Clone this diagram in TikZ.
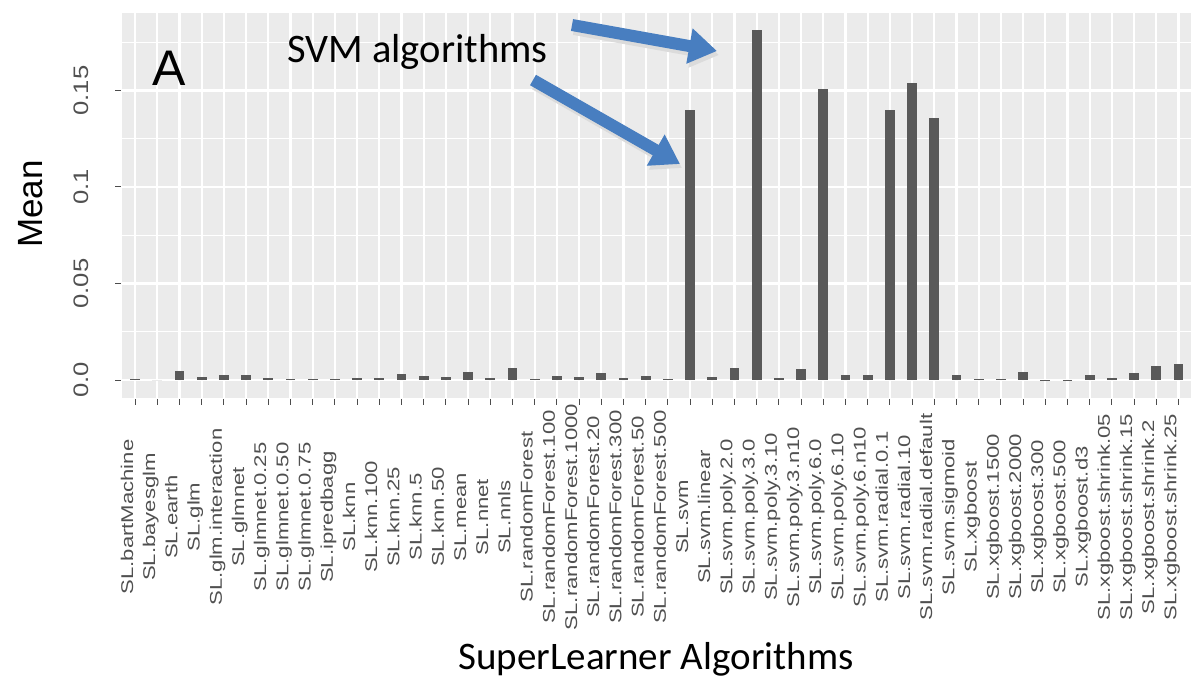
\documentclass[tikz,border=0pt]{standalone}
\usepackage{fontspec}
\setmainfont{Liberation Sans}
\newfontfamily\notefont{Carlito}
\usetikzlibrary{arrows.meta}
\definecolor{panelgrey}{HTML}{EBEBEB}
\definecolor{bargrey}{HTML}{595959}
\definecolor{ticktext}{HTML}{505050}
\definecolor{arrowblue}{RGB}{72,126,192}
\newcommand{\stretchlab}[2]{\scalebox{#1}[1]{#2}}

\begin{document}
\begin{tikzpicture}[x=1pt, y=-1pt,
panel/.style={fill=panelgrey, draw=none},
major-grid/.style={draw=white, line width=2.2pt},
minor-grid/.style={draw=white, line width=1.1pt},
bar/.style={fill=bargrey, draw=none},
tick/.style={draw=black!70, line width=1pt},
x-label/.style={rotate=90, anchor=base, text=ticktext, inner sep=0pt,
    font=\fontsize{17}{17}\selectfont},
y-label/.style={rotate=90, anchor=base, text=ticktext, inner sep=0pt,
    font=\fontsize{21}{21}\selectfont},
axis-title/.style={inner sep=0pt, font=\fontsize{35}{35}\selectfont},
note/.style={inner sep=0pt, font=\notefont\fontsize{40.5}{40.5}\selectfont},
line/.style={draw=arrowblue, line width=12pt, -{Triangle[length=28pt, width=34pt]}},
line-shadow/.style={line, draw=black!14}
]

\useasboundingbox (0,0) rectangle (1198,681);

\fill [panel] (122,13) rectangle (1191,398);
\foreach \v in {0.025,0.075,0.125,0.175}
    \draw [minor-grid] (122,{380-\v*1930}) -- (1191,{380-\v*1930});
\foreach \v in {0,0.05,0.1,0.15}
    \draw [major-grid] (122,{380-\v*1930}) -- (1191,{380-\v*1930});
\foreach \i in {1,...,48}
    \draw [major-grid] ({135+(\i-1)*22.2},13) -- ({135+(\i-1)*22.2},398);

\foreach \v [count=\i] in {0.0004,0,0.0045,0.0015,0.0025,0.0025,0.0012,0.0006,
    0.0006,0.0006,0.0012,0.0012,0.003,0.0022,0.0018,0.004,0.001,0.006,0.0006,
    0.0022,0.0018,0.0035,0.001,0.002,0.0005,0.140,0.0018,0.0062,0.1815,0.0012,
    0.0055,0.151,0.0028,0.0028,0.140,0.154,0.136,0.0028,0.0005,0.0006,0.0042,
    0.0002,0.0002,0.0025,0.001,0.0035,0.0072,0.0085}
    \fill [bar] ({135+(\i-1)*22.2-4.9},380) rectangle ({135+(\i-1)*22.2+4.9},{380-\v*1930});

\foreach \i in {1,...,48}
    \draw [tick] ({135+(\i-1)*22.2},399) -- ({135+(\i-1)*22.2},405);
\foreach \v in {0,0.05,0.1,0.15}
    \draw [tick] (115,{380-\v*1930}) -- (121,{380-\v*1930});

\node [y-label] (y-tick-0) at (88,380) {\stretchlab{1.22}{0.0}};
\node [y-label] (y-tick-1) at (88,283.5) {\stretchlab{1.22}{0.05}};
\node [y-label] (y-tick-2) at (88,187) {\stretchlab{1.22}{0.1}};
\node [y-label] (y-tick-3) at (88,90.5) {\stretchlab{1.22}{0.15}};

\foreach \lab [count=\i] in {SL.bartMachine, SL.bayesglm, SL.earth, SL.glm,
    SL.glm.interaction, SL.glmnet, SL.glmnet.0.25, SL.glmnet.0.50,
    SL.glmnet.0.75, SL.ipredbagg, SL.knn, SL.knn.100, SL.knn.25, SL.knn.5,
    SL.knn.50, SL.mean, SL.nnet, SL.nnls, SL.randomForest,
    SL.randomForest.100, SL.randomForest.1000, SL.randomForest.20,
    SL.randomForest.300, SL.randomForest.50, SL.randomForest.500, SL.svm,
    SL.svm.linear, SL.svm.poly.2.0, SL.svm.poly.3.0, SL.svm.poly.3.10,
    SL.svm.poly.3.n10, SL.svm.poly.6.0, SL.svm.poly.6.10, SL.svm.poly.6.n10,
    SL.svm.radial.0.1, SL.svm.radial.10, SL.svm.radial.default,
    SL.svm.sigmoid, SL.xgboost, SL.xgboost.1500, SL.xgboost.2000,
    SL.xgboost.300, SL.xgboost.500, SL.xgboost.d3, SL.xgboost.shrink.05,
    SL.xgboost.shrink.15, SL.xgboost.shrink.2, SL.xgboost.shrink.25}
    \node [x-label] (x-tick-\i) at ({133+(\i-1)*22.2},517) {\stretchlab{1.3}{\lab}};

\node [axis-title, rotate=90, anchor=base] (y-title) at (42,204) {Mean};
\node [note, anchor=base, font=\notefont\fontsize{39}{39}\selectfont] (x-title) at (656,669)
    {SuperLearner Algorithms};
\node [axis-title, anchor=base, font=\fontsize{50}{50}\selectfont] (panel-tag) at (169,85) {A};
\node [note, anchor=base west] (svm-note) at (287,62) {SVM algorithms};

\coordinate (top-tail) at (572,25);
\coordinate (top-tip) at (717,51);
\coordinate (low-tail) at (533,80);
\coordinate (low-tip) at (680,164);

\path [line-shadow] ([shift={(2,4)}]top-tail) -- ([shift={(2,4)}]top-tip);
\path [line-shadow] ([shift={(2,4)}]low-tail) -- ([shift={(2,4)}]low-tip);
\path [line] (top-tail) -- (top-tip);
\path [line] (low-tail) -- (low-tip);

\end{tikzpicture}
\end{document}
